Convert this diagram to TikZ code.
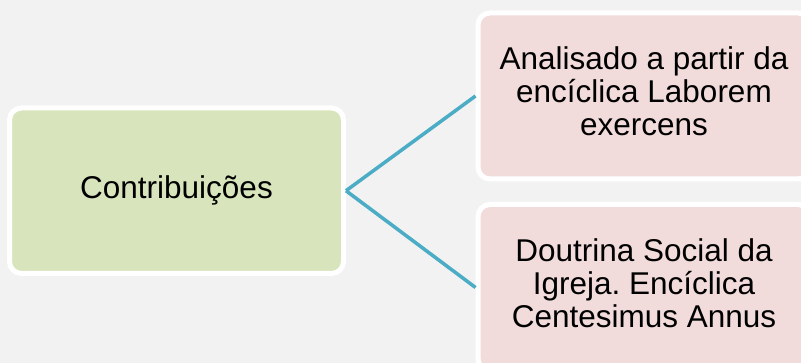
\documentclass[tikz,border=0pt]{standalone}
\usepackage{fontspec}
\setmainfont{Liberation Sans}
\frenchspacing
\definecolor{bgc}{HTML}{F2F2F2}
\definecolor{greenbox}{HTML}{D8E4BC}
\definecolor{pinkbox}{HTML}{F2DCDB}
\definecolor{teal}{HTML}{4BACC6}
\newcommand{\uplines}[1]{\raisebox{5pt}{\begin{tabular}{@{}c@{}}#1\end{tabular}}}
\tikzset{
  box/.style={draw=white, line width=5pt, rounded corners=12pt, align=center,
    font=\fontsize{31.5}{33}\selectfont, inner sep=0pt},
  leftbox/.style={box, fill=greenbox, minimum width=334pt, minimum height=165.5pt},
  rightbox/.style={box, fill=pinkbox, minimum width=332pt, minimum height=166pt},
  conn/.style={draw=teal, line width=3.5pt}
}
\begin{document}
\begin{tikzpicture}[x=1pt,y=-1pt]
\useasboundingbox (0,0) rectangle (801,363);
\clip (0,0) rectangle (801,363);
\fill[bgc] (0,0) rectangle (801,363);
\node[leftbox] (c) at (176.5,190.75) {Contribuições};
\node[rightbox] (a) at (644,96) {\uplines{Analisado a partir da\\encíclica Laborem\\exercens}};
\node[rightbox] (d) at (644,287.5) {\uplines{Doutrina Social da\\Igreja. Encíclica\\Centesimus Annus}};
\draw[conn] (c.east) -- (a.west);
\draw[conn] (c.east) -- (d.west);
\end{tikzpicture}
\end{document}
